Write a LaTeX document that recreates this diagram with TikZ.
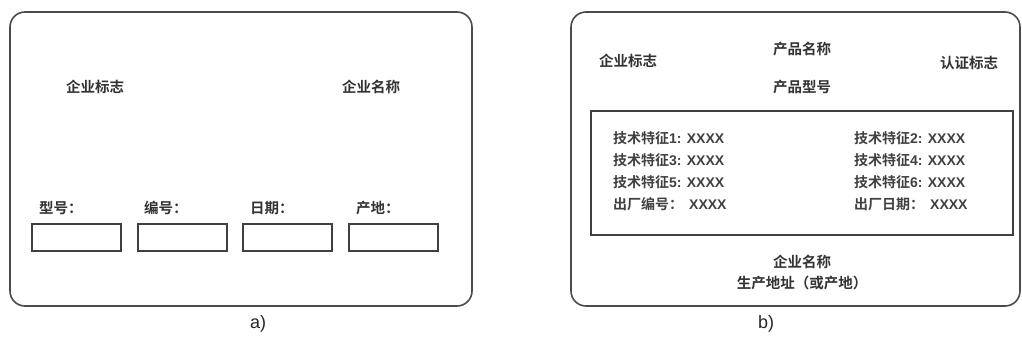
\documentclass[tikz,border=0pt]{standalone}
\usepackage{fontspec}
\setmainfont{Liberation Sans}
\newfontfamily\cjk{Noto Sans CJK SC}[BoldFont=Noto Sans CJK SC Bold]
\tikzset{
  x=1pt, y=-1pt,
  card/.style={draw=black!70, line width=1.6pt, rounded corners=15pt},
  field/.style={draw=black!75, line width=2pt, minimum width=89pt, minimum height=27pt, inner sep=0pt, anchor=north west},
  lbl/.style={font=\cjk\bfseries\fontsize{14.5}{16}\selectfont, text=black!80, inner sep=0pt},
  feat/.style={font=\bfseries\fontsize{14}{16}\selectfont, text=black!75, inner sep=0pt, anchor=west},
  captxt/.style={font=\fontsize{18}{20}\selectfont, text=black!85, inner sep=0pt}
}
\newcommand{\cj}[1]{{\cjk\bfseries #1}}
\begin{document}
\begin{tikzpicture}
\path[use as bounding box] (0,0) rectangle (1022,359);
% panel a
\draw[card] (10,12) rectangle (472,306);
\node[lbl] (alogo) at (95,87) {企业标志};
\node[lbl] (aname) at (371,87) {企业名称};
\node[lbl, anchor=west] (l1) at (39,208) {型号：};
\node[lbl, anchor=west] (l2) at (144,208) {编号：};
\node[lbl, anchor=west] (l3) at (250,208) {日期：};
\node[lbl, anchor=west] (l4) at (356,208) {产地：};
\node[field] (f1) at (31,223) {};
\node[field] (f2) at (137,223) {};
\node[field] (f3) at (242,223) {};
\node[field] (f4) at (348,223) {};
% panel b
\draw[card] (571,12) rectangle (1020,306);
\draw[draw=black!75, line width=2pt] (591,111) rectangle (1013,235);
\node[lbl] (blogo) at (628,61) {企业标志};
\node[lbl] (pname) at (802,49) {产品名称};
\node[lbl] (pmodel) at (802,87) {产品型号};
\node[lbl] (cert) at (969,63) {认证标志};
\node[feat] (t1) at (613,138) {\cj{技术特征}1: XXXX};
\node[feat] (t3) at (613,160) {\cj{技术特征}3: XXXX};
\node[feat] (t5) at (613,182) {\cj{技术特征}5: XXXX};
\node[feat] (t7) at (613,204) {\cj{出厂编号：}\hspace{6pt}XXXX};
\node[feat] (t2) at (854,138) {\cj{技术特征}2: XXXX};
\node[feat] (t4) at (854,160) {\cj{技术特征}4: XXXX};
\node[feat] (t6) at (854,182) {\cj{技术特征}6: XXXX};
\node[feat] (t8) at (854,204) {\cj{出厂日期：}\hspace{6pt}XXXX};
\node[lbl] (bname) at (802,262) {企业名称};
\node[lbl] (addr) at (802,283) {生产地址（或产地）};
% captions
\node[captxt] (capa) at (258,324) {a)};
\node[captxt] (capb) at (766,324) {b)};
\end{tikzpicture}
\end{document}
